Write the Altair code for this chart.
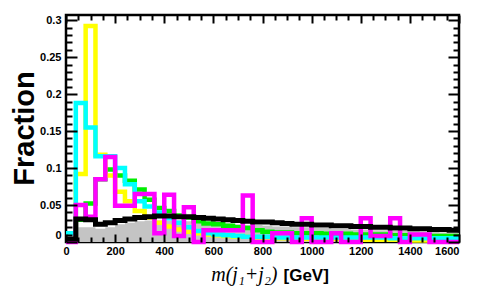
import altair as alt
import pandas as pd

# ---- data (fractions per 40 GeV bin, 0..1600 GeV) ----
bin_width = 40
yellow = [0.003, 0.092, 0.292, 0.118, 0.090, 0.068, 0.055, 0.042, 0.033, 0.026,
          0.021, 0.017, 0.014, 0.012, 0.010, 0.009, 0.008, 0.007, 0.007, 0.006,
          0.006, 0.005, 0.005, 0.005, 0.004, 0.004, 0.004, 0.004, 0.003, 0.003,
          0.003, 0.003, 0.003, 0.003, 0.002, 0.002, 0.002, 0.002, 0.002, 0.002]
cyan = [0.012, 0.188, 0.155, 0.116, 0.116, 0.100, 0.078, 0.055, 0.048, 0.040,
        0.032, 0.026, 0.020, 0.015, 0.012, 0.010, 0.009, 0.008, 0.007, 0.007,
        0.007, 0.006, 0.006, 0.006, 0.006, 0.006, 0.006, 0.006, 0.006, 0.006,
        0.006, 0.006, 0.006, 0.005, 0.005, 0.005, 0.005, 0.005, 0.005, 0.005]
green = [0.002, 0.030, 0.052, 0.085, 0.098, 0.090, 0.083, 0.071, 0.057, 0.046,
         0.042, 0.036, 0.033, 0.028, 0.025, 0.024, 0.022, 0.020, 0.019, 0.016,
         0.014, 0.013, 0.013, 0.012, 0.012, 0.012, 0.011, 0.011, 0.011, 0.010,
         0.010, 0.010, 0.010, 0.009, 0.009, 0.009, 0.009, 0.008, 0.008, 0.008]
magenta = [0.0, 0.050, 0.034, 0.085, 0.115, 0.049, 0.049, 0.065, 0.065, 0.012,
           0.064, 0.008, 0.047, 0.0, 0.016, 0.016, 0.016, 0.016, 0.063, 0.0,
           0.0, 0.012, 0.012, 0.0, 0.032, 0.0, 0.0, 0.012, 0.0, 0.0,
           0.032, 0.008, 0.008, 0.032, 0.0, 0.010, 0.010, 0.0, 0.0, 0.0]
black = [0.004, 0.031, 0.030, 0.024, 0.026, 0.029, 0.031, 0.033, 0.034, 0.035,
         0.035, 0.034, 0.034, 0.033, 0.032, 0.031, 0.030, 0.029, 0.028, 0.027,
         0.027, 0.026, 0.025, 0.024, 0.024, 0.023, 0.023, 0.022, 0.022, 0.021,
         0.021, 0.020, 0.020, 0.019, 0.019, 0.018, 0.018, 0.017, 0.017, 0.016]
gray = [0.002, 0.020, 0.020, 0.018, 0.020, 0.024, 0.026, 0.028, 0.029, 0.029,
        0.029, 0.029, 0.028, 0.028, 0.027, 0.026, 0.025, 0.024, 0.023, 0.023,
        0.022, 0.021, 0.021, 0.020, 0.020, 0.019, 0.019, 0.018, 0.018, 0.017,
        0.017, 0.016, 0.016, 0.015, 0.015, 0.015, 0.014, 0.014, 0.013, 0.013]

x_labels = [0, 200, 400, 600, 800, 1000, 1200, 1400, 1600]
y_labels = [0, 0.05, 0.1, 0.15, 0.2, 0.25, 0.3]
x_title_var = "m(j\u2081+j\u2082)"
x_title_unit = "[GeV]"
y_title = "Fraction"

series = {"gray": gray, "green": green, "yellow": yellow,
          "cyan": cyan, "magenta": magenta, "black": black}
colors = {"green": "#00ee00", "yellow": "#ffff00", "cyan": "#00ffff",
          "magenta": "#ff00ff", "black": "#000000"}

nb = len(black)
edges = [i * bin_width for i in range(nb + 1)]
rows = []
for name, vals in series.items():
    for i, v in enumerate(vals):
        rows.append({"s": name, "x": edges[i], "v": v})
    rows.append({"s": name, "x": edges[-1], "v": vals[-1]})
df = pd.DataFrame(rows)

W, H = 393, 227
xdom = [0, 1600]
ydom = [0, 0.307]
FONT = "Liberation Sans"

xs = alt.Scale(domain=xdom, nice=False, zero=False)
ys = alt.Scale(domain=ydom, nice=False)

x_axis = alt.Axis(orient="bottom", values=x_labels, ticks=False, domain=False, grid=False,
                  format="d",
                  labelFont=FONT, labelFontWeight="bold", labelFontSize=11,
                  labelColor="black", labelPadding=3, labelOverlap=False,
                  labelAlign={"condition": {"test": "datum.value >= 1600", "value": "right"},
                              "value": "center"},
                  title=x_title_unit, titleFont=FONT, titleFontSize=17,
                  titleFontWeight="bold", titleColor="black",
                  titleX=217, titleY=38, titleAlign="left",
                  titleBaseline="alphabetic")
y_axis = alt.Axis(orient="left", values=y_labels, ticks=False, domain=False, grid=False,
                  format=".2~f", labelFont=FONT, labelFontWeight="bold",
                  labelFontSize=11, labelColor="black", labelPadding=5,
                  labelOverlap=False,
                  labelOffset={"condition": {"test": "datum.value == 0", "value": -7},
                               "value": 0},
                  title=y_title, titleFont=FONT, titleFontSize=29,
                  titleFontWeight="bold", titleColor="black",
                  titleAngle=270, titleX=-33, titleY=113, titleAlign="center",
                  titleBaseline="alphabetic")

layers = []
layers.append(
    alt.Chart(df).transform_filter(alt.datum.s == "gray").mark_area(
        interpolate="step-after", color="#c4c4c4").encode(
        x=alt.X("x:Q", scale=xs, axis=None),
        y=alt.Y("v:Q", scale=ys, axis=None),
    )
)
for name in ["green", "yellow", "cyan", "magenta", "black"]:
    sw = 5 if name == "black" else 4.5
    layers.append(
        alt.Chart(df).transform_filter(alt.datum.s == name).mark_line(
            interpolate="step-after", color=colors[name], strokeWidth=sw,
            strokeCap="butt", strokeJoin="miter").encode(
            x=alt.X("x:Q", scale=xs, axis=None),
            y=alt.Y("v:Q", scale=ys, axis=None),
        )
    )

x_ticks = [i * 50 for i in range(33)]
y_ticks = [round(i * 0.01, 2) for i in range(31)]
x_tick_size = {"condition": {"test": "datum.value % 200 == 0", "value": 8}, "value": 5}
y_tick_size = {"condition": {"test": "round(datum.value * 100) % 5 == 0", "value": 11}, "value": 6}


def tick_axis(orient, offset, values, size, **kw):
    opts = dict(orient=orient, offset=offset, values=values, labels=False,
                domain=False, grid=False, ticks=True, tickColor="black",
                tickWidth=2, tickSize=size, title="", zindex=1)
    opts.update(kw)
    return alt.Axis(**opts)


dummy = pd.DataFrame({"x": [0], "v": [0]})
layers.append(alt.Chart(dummy).mark_point(opacity=0).encode(
    x=alt.X("x:Q", scale=xs, axis=x_axis),
    y=alt.Y("v:Q", scale=ys, axis=y_axis),
))
layers.append(alt.Chart(dummy).mark_point(opacity=0).encode(
    x=alt.X("x:Q", scale=xs, axis=tick_axis(
        "top", -H, x_ticks, x_tick_size,
        title=x_title_var, titleFont="Liberation Serif", titleFontStyle="italic",
        titleFontWeight="normal", titleFontSize=20, titleColor="black",
        titleX=211, titleY=38, titleAlign="right", titleBaseline="alphabetic")),
    y=alt.Y("v:Q", scale=ys, axis=tick_axis("right", -W, y_ticks, y_tick_size)),
))
layers.append(alt.Chart(dummy).mark_point(opacity=0).encode(
    x=alt.X("x:Q", scale=xs, axis=tick_axis("bottom", -H, x_ticks, x_tick_size)),
    y=alt.Y("v:Q", scale=ys, axis=tick_axis("left", -W, y_ticks, y_tick_size)),
))

chart = alt.layer(*layers).resolve_scale(
    x="independent", y="independent"
).properties(
    width=W, height=H,
    autosize=alt.AutoSizeParams(type="none"),
    padding={"left": 58, "top": 7, "right": 8, "bottom": 55},
    background="white",
).configure_view(stroke="black", strokeWidth=2.5)

chart.save("out.html", embed_options={"renderer": "svg", "actions": False})
